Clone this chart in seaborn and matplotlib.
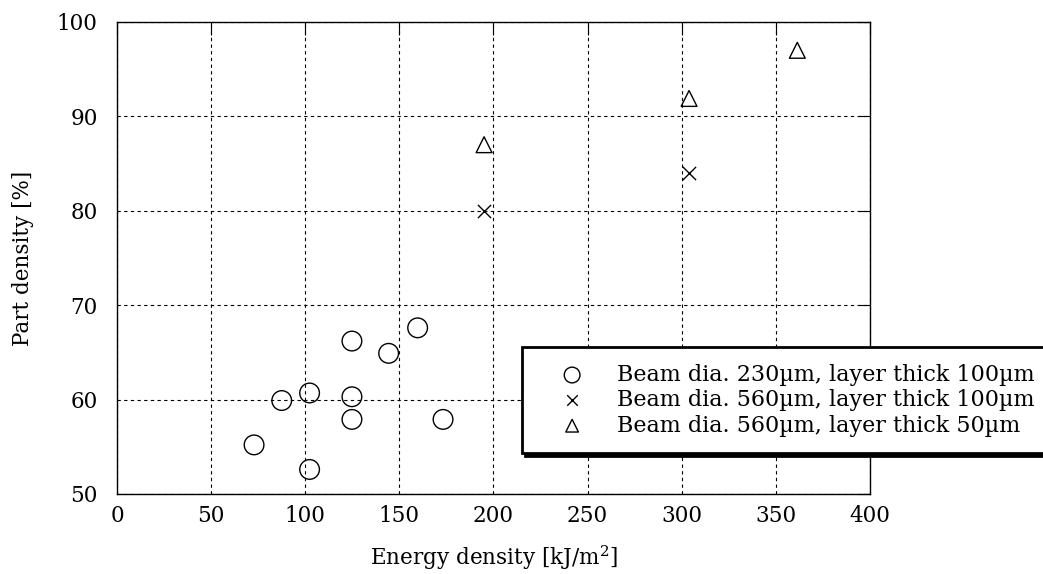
import seaborn as sns
import pandas as pd
import matplotlib.pyplot as plt

# Beam dia. 230um, layer thick 100um
e_230_100 = [72.8, 87.5, 102.3, 102.3, 124.8, 124.8, 124.8, 144.3, 159.7, 173.2]
d_230_100 = [55.2, 59.9, 60.7, 52.6, 66.2, 60.3, 57.9, 64.9, 67.6, 57.9]
# Beam dia. 560um, layer thick 100um
e_560_100 = [195.0, 303.9]
d_560_100 = [80.0, 84.0]
# Beam dia. 560um, layer thick 50um
e_560_50 = [195.0, 303.9, 361.4]
d_560_50 = [87.0, 91.9, 97.0]

labels = ["Beam dia. 230\u00b5m, layer thick 100\u00b5m",
          "Beam dia. 560\u00b5m, layer thick 100\u00b5m",
          "Beam dia. 560\u00b5m, layer thick 50\u00b5m"]

sns.set_theme(style="white")
plt.rcParams['font.family'] = ['DejaVu Serif']
plt.rcParams['mathtext.fontset'] = 'dejavuserif'
plt.rcParams['text.color'] = 'black'
plt.rcParams['axes.labelcolor'] = 'black'

fs = 15.5

fig = plt.figure(figsize=(10.43, 5.74), dpi=100)
ax = fig.add_axes([0.1122, 0.1394, 0.7219, 0.8223])

df1 = pd.DataFrame({'e': e_230_100, 'd': d_230_100})
df2 = pd.DataFrame({'e': e_560_100, 'd': d_560_100})
df3 = pd.DataFrame({'e': e_560_50, 'd': d_560_50})

sns.scatterplot(data=df1, x='e', y='d', marker='o', s=200, facecolor='none',
                edgecolor='black', linewidth=1.0, label=labels[0], ax=ax, zorder=3)
sns.scatterplot(data=df2, x='e', y='d', marker='x', s=90, color='black',
                linewidth=1.0, label=labels[1], ax=ax, zorder=3)
sns.scatterplot(data=df3, x='e', y='d', marker='^', s=130, facecolor='none',
                edgecolor='black', linewidth=1.0, label=labels[2], ax=ax, zorder=3)

ax.set_xlim(0, 400)
ax.set_ylim(50, 100)
ax.set_xticks(range(0, 401, 50))
ax.set_yticks(range(50, 101, 10))
ax.grid(True, color='black', linestyle=(0, (3, 3)), linewidth=0.8)
for sp in ax.spines.values():
    sp.set_color('black')
    sp.set_linewidth(1.0)
ax.tick_params(direction='in', length=9, width=0.8, colors='black',
               labelsize=fs, top=True, right=True)
ax.tick_params(axis='y', pad=14)
ax.tick_params(axis='x', pad=8)
ax.set_xlabel("Energy density [kJ/m$^{2}$]", fontsize=fs, labelpad=12)
ax.set_ylabel("Part density [%]", fontsize=fs, labelpad=16)

leg = ax.legend(loc='upper left', bbox_to_anchor=(0.538, 0.311), fontsize=16,
                frameon=True, fancybox=False, shadow={'color': 'black', 'alpha': 1},
                markerscale=0.8, handlelength=3.0, handletextpad=0.53,
                borderpad=0.75, labelspacing=0.15, borderaxespad=0)
leg.get_frame().set_edgecolor('black')
leg.get_frame().set_linewidth(2)
leg.get_frame().set_alpha(1)
leg.set_clip_on(False)

fig.savefig('out.png', dpi=100)
